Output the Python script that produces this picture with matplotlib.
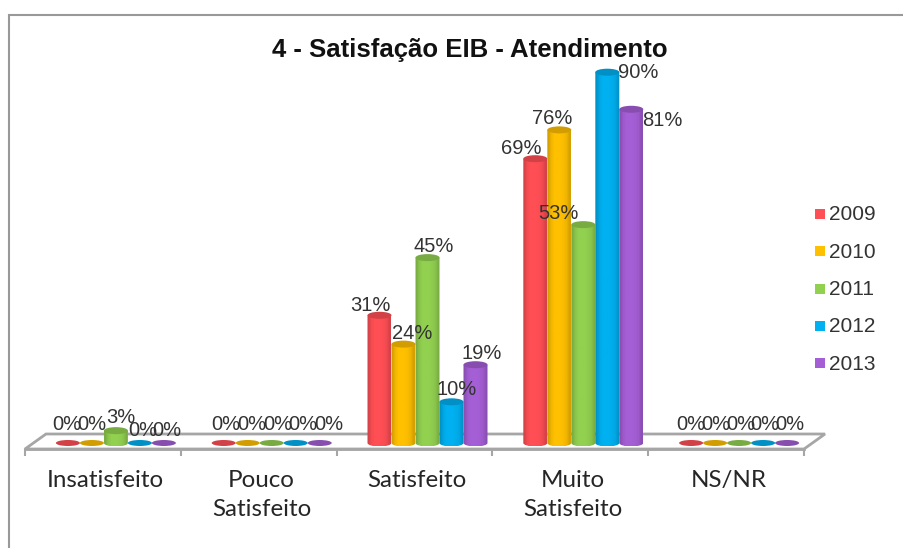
import matplotlib
matplotlib.use("Agg")
import matplotlib.pyplot as plt
import numpy as np
from matplotlib.patches import Ellipse, PathPatch, Polygon
from matplotlib.path import Path

categories = ["Insatisfeito", "Pouco\nSatisfeito", "Satisfeito", "Muito\nSatisfeito", "NS/NR"]
years = ["2009", "2010", "2011", "2012", "2013"]
v2009 = [0, 0, 31, 69, 0]
v2010 = [0, 0, 24, 76, 0]
v2011 = [3, 0, 45, 53, 0]
v2012 = [0, 0, 10, 90, 0]
v2013 = [0, 0, 19, 81, 0]
series = [v2009, v2010, v2011, v2012, v2013]

colors = ["#ff4f55", "#ffc000", "#92d050", "#00b0f0", "#a55fd6"]
grey = "#a6a6a6"

W, H = 904, 548
# axes box in pixels: floor front edge and top of plot area
LEFT, RIGHT, BOTTOM, TOP = 25, 804, 449, 60
PX_PER_UNIT_Y = 4.12
PX_PER_CAT = (RIGHT - LEFT) / 5
BASE_PX = 443  # where y=0 sits
bar_w = 24 / PX_PER_CAT
shift = 13 / PX_PER_CAT  # bars sit back in the 3d floor


def dx(px):
    return px / PX_PER_CAT


def dy(px):
    return px / PX_PER_UNIT_Y


# label nudges from bar centre / top, in pixels, (group, series): (x, y up)
nudges = {
    (2, 0): (-9, 12), (2, 1): (9, 13), (2, 2): (6, 13), (2, 3): (5, 14), (2, 4): (6, 13),
    (3, 0): (-14, 12), (3, 1): (-7, 13), (3, 2): (-25, 13), (3, 3): (31, 2), (3, 4): (31, -9),
    (0, 0): (-1, 21), (0, 1): (0, 21), (0, 2): (5, 15), (0, 3): (3, 15), (0, 4): (3, 15),
    (1, 0): (2, 21), (1, 1): (4, 21), (1, 2): (6, 21), (1, 3): (7, 21), (1, 4): (9, 21),
    (4, 0): (0, 21), (4, 1): (1, 21), (4, 2): (2, 21), (4, 3): (2, 21), (4, 4): (3, 21),
}

plt.rcParams["font.family"] = ["Liberation Sans"]
fig = plt.figure(figsize=(W / 100, H / 100), dpi=100)
ax = fig.add_axes([LEFT / W, 1 - BOTTOM / H, (RIGHT - LEFT) / W, (BOTTOM - TOP) / H])
ax.set_xlim(-0.5, 4.5)
ax.set_ylim(-(BOTTOM - BASE_PX) / PX_PER_UNIT_Y, (BASE_PX - TOP) / PX_PER_UNIT_Y)
ax.patch.set_visible(False)
for s in ["top", "right", "left"]:
    ax.spines[s].set_visible(False)
ax.spines["bottom"].set_color(grey)
ax.spines["bottom"].set_linewidth(2)
ax.set_yticks([])
ax.set_xticks(np.arange(-0.5, 5, 1))
ax.set_xticklabels([])
ax.tick_params(axis="x", length=5, width=1.5, color=grey)

# 3d floor
y_front = ax.get_ylim()[0]
y_back = y_front + dy(15)
floor = Polygon(
    [(-0.5, y_front), (4.5, y_front), (4.5 + dx(21), y_back), (-0.5 + dx(21), y_back)],
    closed=True, fill=False, edgecolor=grey, lw=2, clip_on=False, zorder=1,
)
ax.add_patch(floor)

# horizontal shading across a cylinder
shade = np.array([0.84, 0.95, 1.0, 1.0, 1.0, 0.98, 0.94, 0.84])[None, :, None]
ell_h = dy(7)

for j, vals in enumerate(series):
    rgb = np.array(matplotlib.colors.to_rgb(colors[j]))
    dark = rgb * 0.82
    for i, v in enumerate(vals):
        xc = i + shift + (j - 2) * bar_w
        z = 3 + i + j * 0.1
        if v == 0:
            ax.add_patch(Ellipse((xc, 0), bar_w, dy(6), color=dark, zorder=z, lw=0))
        else:
            x0, x1 = xc - bar_w / 2, xc + bar_w / 2
            im = ax.imshow(
                np.clip(rgb[None, None, :] * shade, 0, 1),
                extent=(x0, x1, -ell_h / 2, v), aspect="auto",
                interpolation="bilinear", zorder=z,
            )
            k = 0.5523
            a, b = bar_w / 2, ell_h / 2
            verts = [
                (x0, v), (x0, 0),
                (x0, -k * b), (xc - k * a, -b), (xc, -b),
                (xc + k * a, -b), (x1, -k * b), (x1, 0),
                (x1, v), (x0, v),
            ]
            codes = [Path.MOVETO, Path.LINETO, Path.CURVE4, Path.CURVE4, Path.CURVE4,
                     Path.CURVE4, Path.CURVE4, Path.CURVE4, Path.LINETO, Path.CLOSEPOLY]
            clip = PathPatch(Path(verts, codes), transform=ax.transData, fc="none", ec="none")
            ax.add_patch(clip)
            im.set_clip_path(clip)
            ax.add_patch(Ellipse((xc, v), bar_w, ell_h, color=dark, zorder=z + 0.01, lw=0))
        nx, ny = nudges[(i, j)]
        ax.text(xc + dx(nx), v + dy(ny), f"{v}%", ha="center", va="center_baseline",
                fontsize=14.5, color="#333333", zorder=20, clip_on=False)

ax.set_xlim(-0.5, 4.5)
ax.set_ylim(-(BOTTOM - BASE_PX) / PX_PER_UNIT_Y, (BASE_PX - TOP) / PX_PER_UNIT_Y)

for i, c in enumerate(categories):
    ax.annotate(c, (i, 0), xycoords=("data", "axes fraction"), xytext=(2, -15),
                textcoords="offset points", ha="center", va="top",
                fontsize=17.4, family="Lato", color="#262626", linespacing=1.48,
                annotation_clip=False)

fig.text(470 / W, 1 - 48 / H, "4 - Satisfação EIB - Atendimento", ha="center",
         va="center_baseline", fontsize=18.5, fontweight="bold", color="#111111")

# legend
for j, y in enumerate(years):
    py = 214 + j * 37.3
    fig.patches.append(plt.Rectangle((815 / W, 1 - (py + 5) / H), 10 / W, 10 / H,
                                     transform=fig.transFigure, fc=colors[j], ec="none"))
    fig.text(829 / W, 1 - (py - 1) / H, y, ha="left", va="center_baseline", fontsize=15, color="#333333")

# chart frame, runs off the right and bottom of the picture
fig.add_artist(plt.Rectangle((9 / W, -0.05), 1, 1 - 15 / H + 0.05, transform=fig.transFigure,
                             fill=False, ec="#999999", lw=1.5))

fig.savefig("out.png", dpi=100)
